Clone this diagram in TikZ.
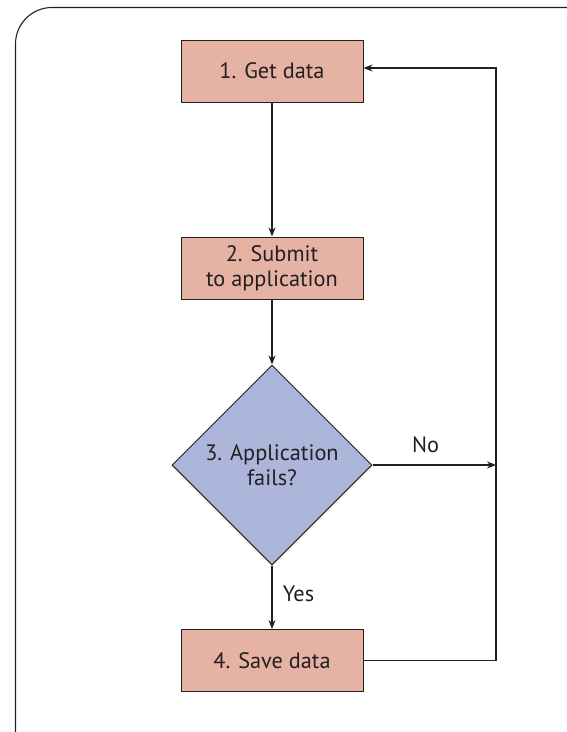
\documentclass[tikz,border=0pt]{standalone}
\usepackage{fontspec}
\setmainfont{PT Sans}
\usetikzlibrary{shapes.geometric,arrows.meta}
\definecolor{boxfill}{HTML}{E6B2A4}
\definecolor{diafill}{HTML}{ADB5DB}
\definecolor{ink}{HTML}{231F20}
\begin{document}
\begin{tikzpicture}[x=1pt,y=-1pt,
  every node/.style={font=\fontsize{22.3}{25}\selectfont, text=ink},
  stepbox/.style={draw=ink, line width=1pt, fill=boxfill, minimum width=182pt, minimum height=62pt, inner sep=0pt, align=center},
  decision/.style={draw=ink, line width=1pt, fill=diafill, diamond, minimum width=200pt, minimum height=200pt, inner sep=0pt, align=center},
  conn/.style={draw=ink, line width=1.1pt, -{Stealth[length=9pt,width=7pt]}},
  frame/.style={draw=ink, line width=1.1pt, rounded corners=36.5pt}]
\useasboundingbox (0,0) rectangle (566,732);
\draw[frame] (15.5,740) -- (15.5,7.5) -- (575,7.5);
\node[stepbox] (b1) at (272,71) {1. Get data};
\node[stepbox] (b2) at (272,268) {2. Submit\\to application};
\node[decision] (d3) at (272,465) {3. Application\\fails?};
\node[stepbox] (b4) at (272,660.5) {4. Save data};
\coordinate (j) at (496,465);
\coordinate (c4) at (496,660.5);
\coordinate (c1) at (496,68);
\draw[conn] (b1.south) -- (b2.north);
\draw[conn] (b2.south) -- (d3.north);
\draw[conn] (d3.south) -- node[right=7pt, pos=0.45] (yes) {Yes} (b4.north);
\draw[conn] (d3.east) -- node[above=8pt, pos=0.43] (no) {No} (j);
\draw[conn] (b4.east) -- (c4) -- (c1) -- (c1 -| b1.east);
\end{tikzpicture}
\end{document}
